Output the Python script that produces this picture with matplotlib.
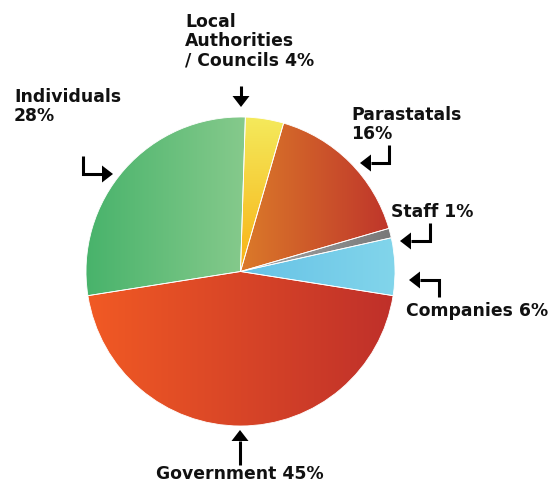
import numpy as np
import matplotlib.pyplot as plt
from matplotlib.colors import LinearSegmentedColormap

# who funds the organisation, share of total
sources = ['Government', 'Companies', 'Staff', 'Parastatals',
           'Local Authorities / Councils', 'Individuals']
shares = [45, 6, 1, 16, 4, 28]
label_text = ['Government 45%', 'Companies 6%', 'Staff 1%', 'Parastatals\n16%',
              'Local\nAuthorities\n/ Councils 4%', 'Individuals\n28%']

# gradient end colours per slice
color_from = ['#F15A24', '#66C2E6', '#A8A8A8', '#DB7A29', '#F4EA5C', '#48B36B']
color_to = ['#BF302A', '#82D5EB', '#787878', '#BF352B', '#F8B216', '#86CA8C']
fade_dir = ['h', 'h', 'h', 'h', 'v', 'h']

W, H = 551, 484
fig = plt.figure(figsize=(W / 100, H / 100), dpi=100)
ax = fig.add_axes([0, 0, 1, 1])

wedges, _ = ax.pie(shares, startangle=189, radius=154.5, center=(240.5, H - 271.5),
                   wedgeprops=dict(edgecolor='white', linewidth=0.6))

ramp = np.linspace(0, 1, 256)
for w, c0, c1, d in zip(wedges, color_from, color_to, fade_dir):
    ext = w.get_path().get_extents()
    cmap = LinearSegmentedColormap.from_list('fade', [c0, c1])
    img = ramp[None, :] if d == 'h' else ramp[:, None]
    w.set_facecolor('none')
    im = ax.imshow(img, cmap=cmap, extent=(ext.x0, ext.x1, ext.y0, ext.y1),
                   aspect='auto', interpolation='bilinear', zorder=w.get_zorder() - 0.5)
    im.set_clip_path(w)

ax.set_xlim(0, W)
ax.set_ylim(0, H)
ax.set_aspect('equal')
ax.axis('off')

font = dict(family='DejaVu Sans', weight='bold', fontsize=12.4,
            color='#111111', linespacing=1.08)


def label(txt, x, y):
    # x, y: top-left corner in pixels from the top of the image
    ax.text(x, H - y, txt, ha='left', va='top', **font)


def elbow(pts, head=11, half=8.5):
    # polyline ending in a filled triangular head; pts in pixels from top
    xs = [p[0] for p in pts]
    ys = [H - p[1] for p in pts]
    tip = np.array([xs[-1], ys[-1]], float)
    prev = np.array([xs[-2], ys[-2]], float)
    u = (tip - prev) / np.hypot(*(tip - prev))
    n = np.array([-u[1], u[0]])
    base = tip - u * head
    ax.plot(xs[:-1] + [base[0]], ys[:-1] + [base[1]], color='black',
            lw=2.2, solid_capstyle='butt', solid_joinstyle='miter')
    tri = np.array([tip, base + n * half, base - n * half])
    ax.fill(tri[:, 0], tri[:, 1], color='black', lw=0)


label(label_text[4], 185, 13)
label(label_text[5], 14, 88)
label(label_text[3], 351, 106)
label(label_text[2], 391, 203)
label(label_text[1], 406, 302)
label(label_text[0], 156, 465)

elbow([(241, 86), (241, 107)])
elbow([(83, 156), (83, 174), (113, 174)])
elbow([(389, 145), (389, 163), (360, 163)])
elbow([(430, 223), (430, 241), (400, 241)])
elbow([(439, 297), (439, 280), (409, 280)])
elbow([(240, 465), (240, 430)])

fig.savefig('out.png', dpi=100)
